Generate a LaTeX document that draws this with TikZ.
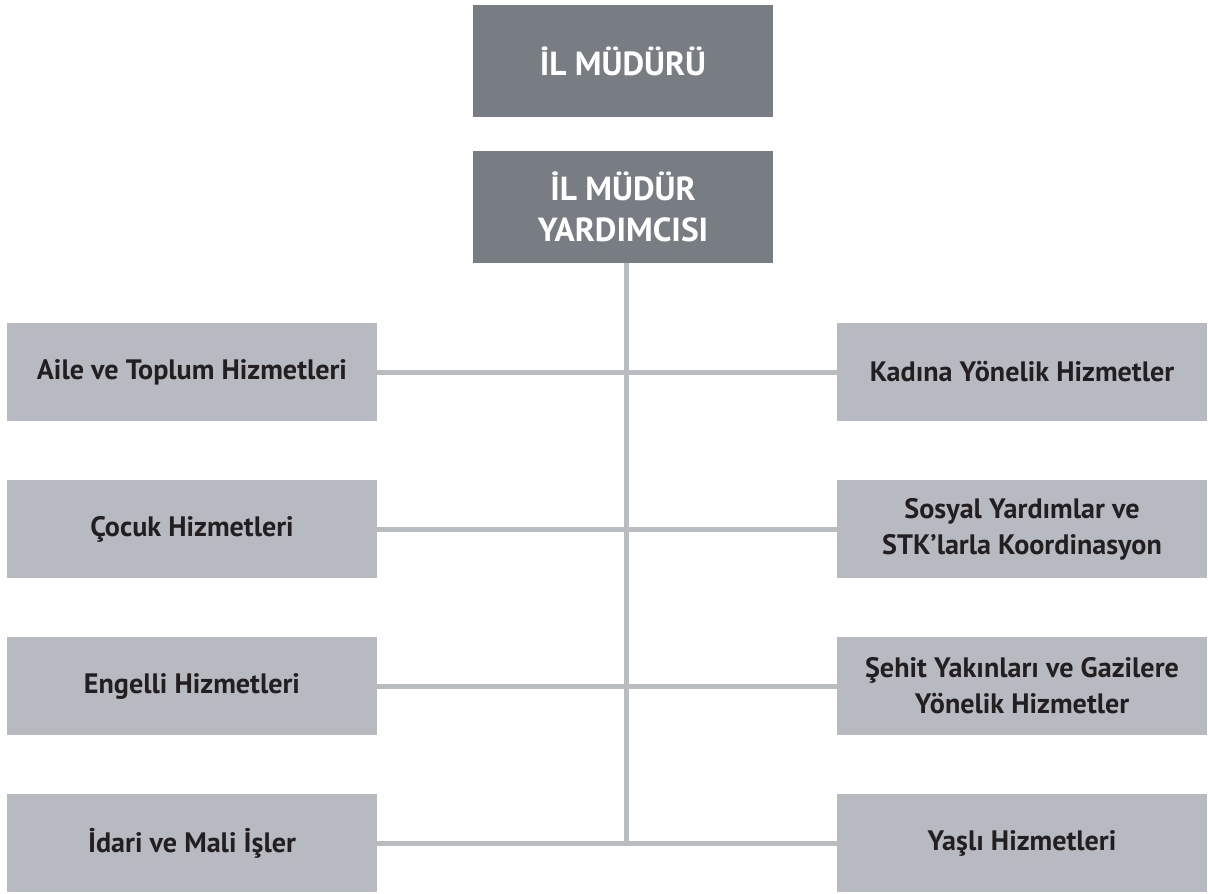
\documentclass[tikz,border=0pt]{standalone}
\usepackage{fontspec}
\setmainfont{PT Sans}
\usepackage{xcolor}
\usepackage{tikz}
\usetikzlibrary{positioning,calc}

\definecolor{headgray}{HTML}{787D83}
\definecolor{unitgray}{HTML}{B7BBC1}
\definecolor{linegray}{HTML}{B9BDC2}
\definecolor{textdark}{HTML}{231F20}

\begin{document}
\begin{tikzpicture}[
    head/.style={fill=headgray, minimum width=6cm, minimum height=2.24cm, inner sep=0pt, align=center, text=white, font=\fontsize{19}{23}\selectfont\bfseries},
    unit/.style={fill=unitgray, minimum width=7.4cm, minimum height=1.96cm, inner sep=0pt, align=center, text=textdark, font=\fontsize{16}{20.5}\selectfont\bfseries},
    link/.style={draw=linegray, line width=0.1cm}
]
\useasboundingbox (0,0) rectangle (24.16,-17.86);

% Management
\node[head] (mudur) at (12.46,-1.22) {İL MÜDÜRÜ};
\node[head] (yard) at (12.46,-4.14) {İL MÜDÜR\\YARDIMCISI};

% Left column
\node[unit] (aile) at (3.84,-7.44) {Aile ve Toplum Hizmetleri};
\node[unit] (cocuk) at (3.84,-10.58) {Çocuk Hizmetleri};
\node[unit] (engel) at (3.84,-13.72) {Engelli Hizmetleri};
\node[unit] (idari) at (3.84,-16.86) {İdari ve Mali İşler};

% Right column
\node[unit] (kadin) at (20.44,-7.44) {Kadına Yönelik Hizmetler};
\node[unit] (sosyal) at (20.44,-10.58) {Sosyal Yardımlar ve\\STK’larla Koordinasyon};
\node[unit] (sehit) at (20.44,-13.72) {Şehit Yakınları ve Gazilere\\Yönelik Hizmetler};
\node[unit] (yasli) at (20.44,-16.86) {Yaşlı Hizmetleri};

% Connectors
\coordinate (top) at ($(yard.south)+(0.06,0)$);
\draw[link] (top) -- (top |- idari.east);
\draw[link] (aile.east) -- (kadin.west);
\draw[link] (cocuk.east) -- (sosyal.west);
\draw[link] (engel.east) -- (sehit.west);
\draw[link] (idari.east) -- (yasli.west);

\end{tikzpicture}
\end{document}
